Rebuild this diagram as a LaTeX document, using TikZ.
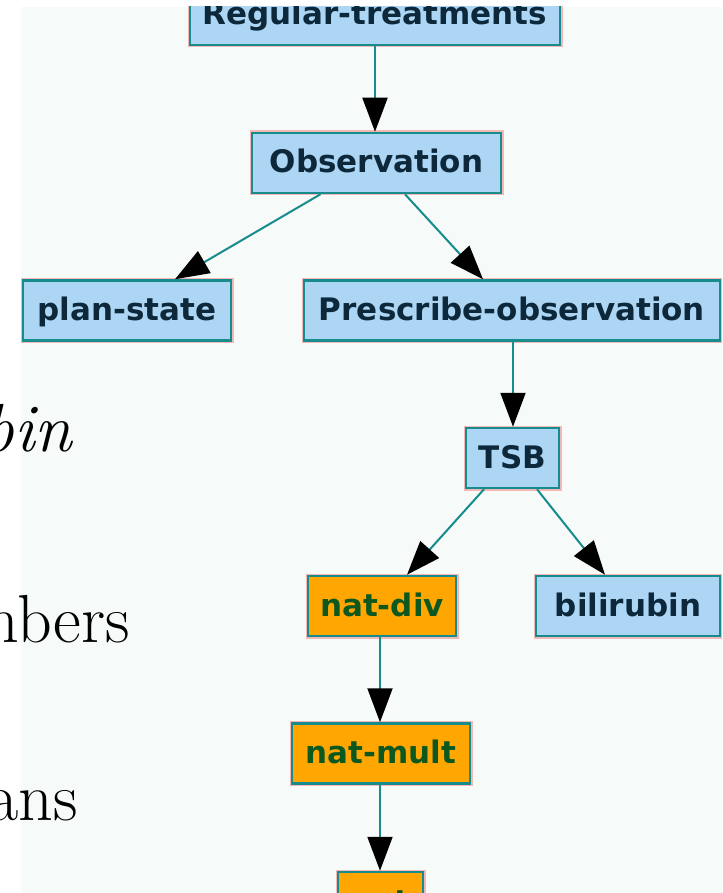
\documentclass[tikz,border=0pt]{standalone}
\usepackage{fontspec}
\newfontfamily\boxfont{DejaVu Sans}[BoldFont={DejaVu Sans Bold}]
\usetikzlibrary{arrows.meta}
\definecolor{bgcol}{RGB}{246,250,248}
\definecolor{boxblue}{RGB}{172,214,244}
\definecolor{boxorange}{RGB}{255,166,0}
\definecolor{edgeteal}{RGB}{22,140,140}
\definecolor{txtblue}{RGB}{12,40,58}
\definecolor{txtgreen}{RGB}{12,88,30}
\definecolor{halo}{RGB}{240,140,140}
\tikzset{
  treebox/.style={draw=edgeteal, line width=2.5pt, rectangle, inner sep=0pt,
    minimum height=60pt, text height=20pt, text depth=0pt,
    font=\boxfont\bfseries\fontsize{31}{36}\selectfont,
    preaction={draw=halo, draw opacity=0.6, line width=5pt}},
  bluebox/.style={treebox, fill=boxblue, text=txtblue},
  orangebox/.style={treebox, fill=boxorange, text=txtgreen},
  link/.style={draw=edgeteal, line width=2pt,
    -{Triangle[length=34pt,width=25pt,color=black]}},
  slidetext/.style={anchor=base east, inner sep=0pt, text=black,
    font=\fontsize{68}{80}\selectfont}
}
\begin{document}
\begin{tikzpicture}[x=1pt,y=-1pt]
\useasboundingbox (0,0) rectangle (722,893);
\fill[white] (0,0) rectangle (722,893);
\begin{scope}
\clip (21,7) rectangle (722,893);
\fill[bgcol] (21,7) rectangle (722,893);
\node[bluebox, minimum width=370pt] (reg) at (375,15) {Regular-treatments};
\node[bluebox, minimum width=249pt] (obs) at (376.5,163) {Observation};
\node[bluebox, minimum width=208pt] (plan) at (127,310.5) {plan-state};
\node[bluebox, minimum width=416pt] (presc) at (512,310.5) {Prescribe-observation};
\node[bluebox, minimum width=93pt] (tsb) at (512.5,458) {TSB};
\node[orangebox, minimum width=148pt] (natdiv) at (382,606) {nat-div};
\node[bluebox, minimum width=184pt] (bili) at (628,606) {bilirubin};
\node[orangebox, minimum width=178pt] (natmult) at (381,753.5) {nat-mult};
\node[orangebox, minimum width=85pt] (nat) at (380.5,902) {nat};
\draw[link] (reg.south) -- (obs.north -| reg.south);
\draw[link] ([xshift=-56pt]obs.south) -- ([xshift=48pt]plan.north);
\draw[link] ([xshift=28.5pt]obs.south) -- ([xshift=-29pt]presc.north);
\draw[link] ([xshift=1pt]presc.south) -- ([xshift=0.5pt]tsb.north);
\draw[link] ([xshift=-28.5pt]tsb.south) -- ([xshift=25pt]natdiv.north);
\draw[link] ([xshift=24.5pt]tsb.south) -- ([xshift=-23pt]bili.north);
\draw[link] ([xshift=-2pt]natdiv.south) -- ([xshift=-1pt]natmult.north);
\draw[link] ([xshift=-1pt]natmult.south) -- ([xshift=-0.5pt]nat.north);
\end{scope}
\node[slidetext] (t1) at (72,451) {\itshape bin};
\node[slidetext] (t2) at (130,642) {nbers};
\node[slidetext] (t3) at (78,820) {ans};
\end{tikzpicture}
\end{document}
